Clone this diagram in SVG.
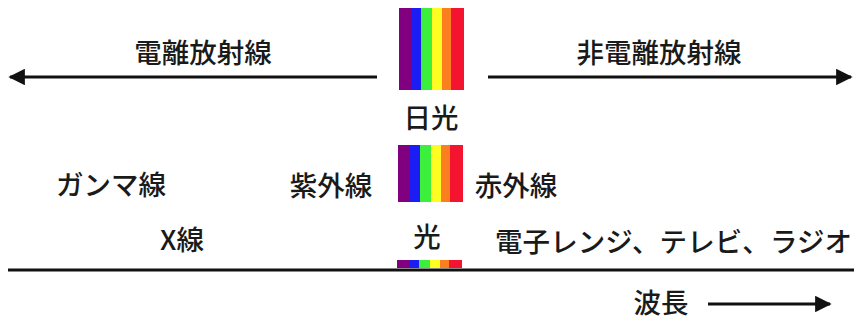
<svg xmlns="http://www.w3.org/2000/svg" width="854" height="320" viewBox="0 0 854 320">
  <defs>
    <style>
      .t { font-family: "Noto Sans CJK JP", "Noto Sans", sans-serif; font-size: 27.5px; font-weight: 500; fill: #1a1a1a; }
      .ln { stroke: #111; stroke-width: 3; fill: none; }
      .pu { fill: #800080; } .bl { fill: #1c1cf5; } .gr { fill: #3def3d; }
      .ye { fill: #fdfd22; } .or { fill: #fb7f1f; } .re { fill: #f51430; }
    </style>
    <marker id="ah" viewBox="0 0 10 10" refX="9" refY="5" markerWidth="7" markerHeight="5.5" markerUnits="strokeWidth" orient="auto">
      <path d="M0,0 L10,5 L0,10 Z" fill="#111"/>
    </marker>
    <g id="spec">
      <rect class="pu" x="0" y="0" width="12" height="1"/>
      <rect class="bl" x="12" y="0" width="10" height="1"/>
      <rect class="gr" x="22" y="0" width="11" height="1"/>
      <rect class="ye" x="33" y="0" width="10" height="1"/>
      <rect class="or" x="43" y="0" width="9" height="1"/>
      <rect class="re" x="52" y="0" width="13" height="1"/>
    </g>
  </defs>
  <rect width="854" height="320" fill="#fff"/>

  <g id="connectors">
    <line class="ln" x1="377" y1="77" x2="10" y2="77" marker-end="url(#ah)"/>
    <line class="ln" x1="488" y1="77" x2="851" y2="77" marker-end="url(#ah)"/>
    <line class="ln" x1="8" y1="270" x2="854" y2="270" stroke-width="2.5"/>
    <line class="ln" x1="708" y1="304" x2="830" y2="304" marker-end="url(#ah)"/>
  </g>

  <g id="spectrum-top">
    <use href="#spec" transform="translate(399,8) scale(1,82)"/>
  </g>
  <g id="spectrum-mid">
    <use href="#spec" transform="translate(398,145) scale(1,57)"/>
  </g>
  <g id="spectrum-bottom">
    <use href="#spec" transform="translate(397,260) scale(1,8)"/>
  </g>

  <g id="ionizing"><text class="t" x="203" y="63" text-anchor="middle">電離放射線</text></g>
  <g id="non-ionizing"><text class="t" x="659" y="63" text-anchor="middle">非電離放射線</text></g>
  <g id="sunlight"><text class="t" x="431" y="128" text-anchor="middle">日光</text></g>
  <g id="gamma"><text class="t" x="111" y="195" text-anchor="middle">ガンマ線</text></g>
  <g id="uv"><text class="t" x="331" y="196" text-anchor="middle">紫外線</text></g>
  <g id="ir"><text class="t" x="516" y="196" text-anchor="middle">赤外線</text></g>
  <g id="xray"><text class="t" x="182" y="250" text-anchor="middle">X線</text></g>
  <g id="light"><text class="t" x="427" y="247" text-anchor="middle">光</text></g>
  <g id="devices"><text class="t" x="495" y="252" textLength="357" lengthAdjust="spacing">電子レンジ、テレビ、ラジオ</text></g>
  <g id="wavelength"><text class="t" x="661" y="313" text-anchor="middle">波長</text></g>
</svg>
